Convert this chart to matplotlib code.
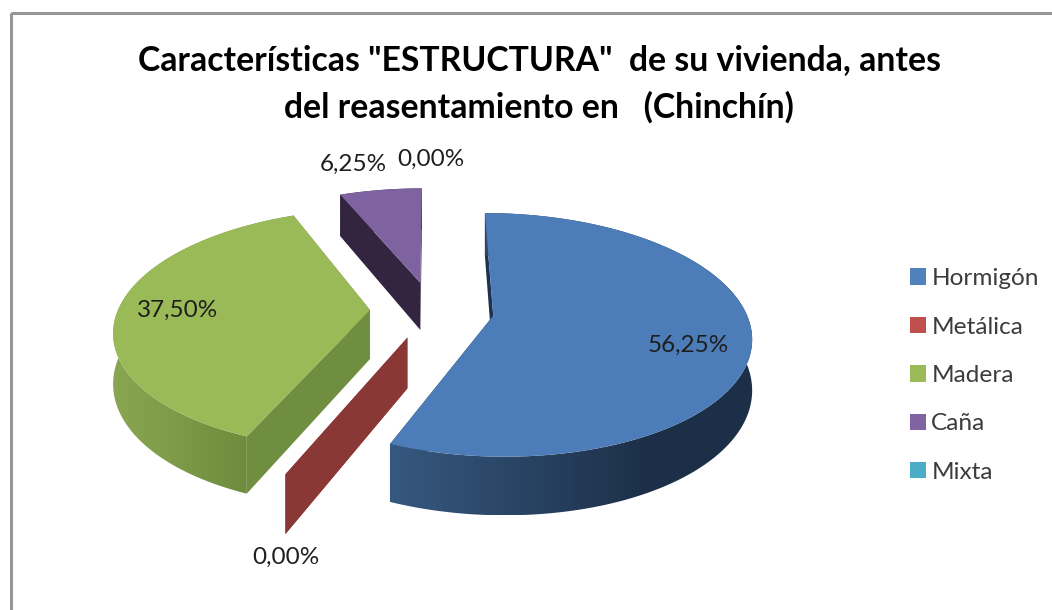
import numpy as np
import matplotlib
matplotlib.use('Agg')
import matplotlib.pyplot as plt
from matplotlib.patches import Polygon, Patch, Rectangle
from matplotlib.colors import to_rgb

# chart data
categories = ['Hormigón', 'Metálica', 'Madera', 'Caña', 'Mixta']
values = [56.25, 0.0, 37.50, 6.25, 0.0]
title = 'Características "ESTRUCTURA"  de su vivienda, antes\ndel reasentamiento en   (Chinchín)'

# colours: legend, top face, flat wall, outer wall (dark and light end)
legend_cols = ['#4f81bd', '#c0504d', '#9bbb59', '#8064a2', '#4bacc6']
top_cols = ['#4c7db9', '#c0504d', '#9aba58', '#7f62a0', '#4bacc6']
flat_cols = ['#1d3250', '#8a3835', '#708e3f', '#33243f', '#2c7f94']
arc_cols = [('#1c2f48', '#36587f'), ('#8a3835', '#8a3835'), ('#6f8c3e', '#88a650'),
            ('#33243f', '#33243f'), ('#2c7f94', '#2c7f94')]
arc_x = [(650, 392), (0, 1), (246, 118), (0, 1), (0, 1)]

# projection of the 3d pie, in pixels
vx, horizon, focal, y_ground = 432.0, -437.0, 1609.0, 310.0
radius, explode, height = 252.0, 62.0, 49.0


def project(X, Y, Z=0.0):
    s = focal / (focal + Y)
    return vx + X * s, horizon + (y_ground - horizon + Z) * s


fig = plt.figure(figsize=(10.52, 6.10), dpi=100)
ax = fig.add_axes([0, 0, 1, 1])
plt.rcParams['font.family'] = ['Lato', 'DejaVu Sans']

ax.add_patch(Rectangle((11, 13), 1100, 700, fill=False, ec='#969696', lw=2.2))

# wedges from the values, clockwise from north
edges = np.concatenate([[0], np.cumsum(values)]) / sum(values) * 2 * np.pi
order = [3, 4, 0, 2, 1]
z = 2
for i in order:
    a0, a1 = edges[i], edges[i + 1]
    mid = (a0 + a1) / 2
    ax0, ay0 = explode * np.sin(mid), explode * np.cos(mid)
    th = np.linspace(a0, a1, max(2, int(np.degrees(a1 - a0)) + 2))
    X = ax0 + radius * np.sin(th)
    Y = ay0 + radius * np.cos(th)

    # flat walls at both ends of the wedge, skipped when seen edge on
    for a in (a0, a1):
        ex, ey = ax0 + radius * np.sin(a), ay0 + radius * np.cos(a)
        pts = [project(ax0, ay0), project(ex, ey), project(ex, ey, height), project(ax0, ay0, height)]
        if abs(pts[0][0] - pts[1][0]) > 1:
            ax.add_patch(Polygon(pts, fc=flat_cols[i], ec='none', zorder=z))
    z += 1

    # outer wall with the shading as a clipped gradient
    xt, yt = project(X, Y)
    xb, yb = project(X, Y, height)
    if a1 > a0:
        xs = np.linspace(xt.min(), xt.max(), 256)
        t = np.clip((xs - arc_x[i][0]) / (arc_x[i][1] - arc_x[i][0]), 0, 1)[None, :, None]
        c0, c1 = np.array(to_rgb(arc_cols[i][0])), np.array(to_rgb(arc_cols[i][1]))
        im = ax.imshow(c0 + (c1 - c0) * t, extent=(xt.min(), xt.max(), yb.max(), yt.min()),
                       aspect='auto', zorder=z, interpolation='bilinear')
        wall = Polygon(np.column_stack([np.r_[xt, xb[::-1]], np.r_[yt, yb[::-1]]]),
                       transform=ax.transData, fc='none', ec='none')
        im.set_clip_path(wall)
    z += 1

    # top face
    ox, oy = project(ax0, ay0)
    if a1 > a0:
        pts = np.column_stack([np.r_[ox, xt], np.r_[oy, yt]])
        ax.add_patch(Polygon(pts, fc=top_cols[i], ec='none', zorder=z))
    z += 1

ax.set_xlim(0, 1052)
ax.set_ylim(610, 0)
ax.axis('off')

# data labels
label_xy = [(688, 345), (286, 557), (178, 310), (353, 164), (431, 159)]
for v, (lx, ly) in zip(values, label_xy):
    txt = ('%.2f' % v).replace('.', ',') + '%'
    ax.text(lx, ly, txt, ha='center', va='center', fontsize=17.5, color='#1e1e1e', zorder=50)

ax.text(539, 84, title, ha='center', va='center', fontsize=24.3, fontweight='bold',
        color='black', linespacing=1.55)

handles = [Patch(fc=c, ec='none', label=n) for c, n in zip(legend_cols, categories)]
ax.legend(handles=handles, loc='center left', bbox_to_anchor=(910 / 1052, 1 - 375.5 / 610),
          frameon=False, fontsize=17.6, handlelength=0.65, handleheight=0.65,
          handletextpad=0.22, labelspacing=1.12, borderpad=0, borderaxespad=0,
          labelcolor='#3c3c3c')

plt.savefig('out.png', dpi=100)
